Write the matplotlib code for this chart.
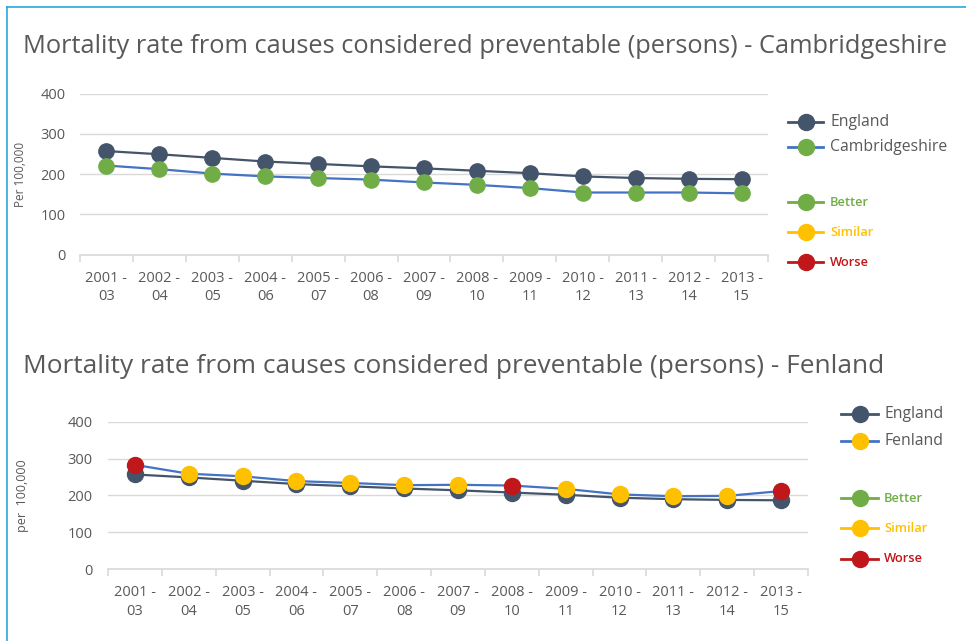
import numpy as np
import matplotlib
matplotlib.use('Agg')
import matplotlib.pyplot as plt

# values per 100,000, three-year pooled periods
periods = ['2001 -\n03', '2002 -\n04', '2003 -\n05', '2004 -\n06', '2005 -\n07',
           '2006 -\n08', '2007 -\n09', '2008 -\n10', '2009 -\n11', '2010 -\n12',
           '2011 -\n13', '2012 -\n14', '2013 -\n15']
england = [257, 249, 240, 231, 225, 219, 214, 208, 202, 194, 190, 188, 187]
cambs = [221, 212, 201, 194, 190, 186, 179, 173, 165, 154, 154, 154, 152]
cambs_rating = ['Better'] * 13
fenland = [283, 259, 252, 239, 234, 228, 229, 227, 218, 203, 198, 199, 212]
fenland_rating = ['Worse', 'Similar', 'Similar', 'Similar', 'Similar', 'Similar',
                  'Similar', 'Worse', 'Similar', 'Similar', 'Similar', 'Similar', 'Worse']
yticks = [0, 100, 200, 300, 400]

ENG = '#44546A'
AREA = '#4472C4'
rating_colours = {'Better': '#70AD47', 'Similar': '#FFC000', 'Worse': '#C0171B'}
area_rating = {'Cambridgeshire': 'Better', 'Fenland': 'Similar'}
TXT = '#595959'
GRID = '#D9D9D9'

plt.rcParams['font.family'] = ['Open Sans', 'DejaVu Sans']

W, H = 966, 641
fig = plt.figure(figsize=(W / 100, H / 100), dpi=100)


def px_axes(left, top, right, bottom):
    return fig.add_axes([left / W, 1 - bottom / H, (right - left) / W, (bottom - top) / H])


def draw_chart(ax, area, ratings, ylabel, tick_pad, ytick_pad, msize):
    x = np.arange(len(periods))
    ax.plot(x, england, color=ENG, lw=1.6, marker='o', ms=msize,
            mfc=ENG, mec=ENG, zorder=3)
    ax.plot(x, area, color=AREA, lw=1.6, zorder=4)
    for xi, v, r in zip(x, area, ratings):
        ax.plot(xi, v, marker='o', ms=msize, color=rating_colours[r],
                mec=rating_colours[r], zorder=5)
    ax.set_xlim(-0.5, len(periods) - 0.5)
    ax.set_ylim(0, 400)
    ax.set_yticks(yticks)
    ax.yaxis.grid(True, color=GRID, lw=1)
    ax.set_axisbelow(True)
    for s in ['top', 'right', 'left']:
        ax.spines[s].set_visible(False)
    ax.spines['bottom'].set_color(GRID)
    ax.spines['bottom'].set_linewidth(1.2)
    ax.set_xticks(x)
    ax.set_xticklabels(periods, linespacing=1.3)
    ax.set_xticks(np.arange(-0.5, len(periods)), minor=True)
    ax.tick_params(axis='x', which='major', length=0, pad=tick_pad,
                   labelsize=10.5, labelcolor=TXT)
    ax.tick_params(axis='x', which='minor', length=5, color=GRID, width=1.2)
    ax.tick_params(axis='y', length=0, pad=ytick_pad, labelsize=10.5, labelcolor=TXT)
    ax.set_ylabel(ylabel, color=TXT)
    return ax


# Cambridgeshire
ax1 = px_axes(80, 93.5, 768, 254.5)
draw_chart(ax1, cambs, cambs_rating, 'Per 100,000', 12, 10.5, 11)
ax1.yaxis.label.set_size(8.5)
ax1.yaxis.set_label_coords((27 - 80) / 688, 0.5)

# Fenland
ax2 = px_axes(108, 421.7, 808, 569.3)
draw_chart(ax2, fenland, fenland_rating, 'per  100,000', 11.5, 11, 11.5)
ax2.yaxis.label.set_size(9)
ax2.yaxis.set_label_coords((29 - 108) / 700, 0.5)

# overlay in pixel coordinates for titles, legends and frame
ov = fig.add_axes([0, 0, 1, 1], zorder=10)
ov.set_xlim(0, W)
ov.set_ylim(H, 0)
ov.axis('off')
ov.patch.set_alpha(0)

ov.plot([7, W], [7, 7], color='#2AA5DE', lw=1.2)
ov.plot([7, 7], [7, H], color='#2AA5DE', lw=1.2)

ov.text(23, 53, 'Mortality rate from causes considered preventable (persons) - Cambridgeshire',
        fontsize=18.3, color=TXT, va='baseline', ha='left')
ov.text(23, 372.7, 'Mortality rate from causes considered preventable (persons) - Fenland',
        fontsize=18.9, color=TXT, va='baseline', ha='left')


def legend(x0, x1, xt, rows, area_name, ms):
    entries = [('England', ENG, ENG, TXT, 11.3, 'normal'),
               (area_name, AREA, rating_colours[area_rating[area_name]], TXT, 11.3, 'normal')]
    for r in ['Better', 'Similar', 'Worse']:
        c = rating_colours[r]
        entries.append((r, c, c, c, 9.3, 'semibold'))
    for (label, lc, mc, tc, fs, fw), y in zip(entries, rows):
        ov.plot([x0, x1], [y, y], color=lc, lw=2)
        ov.plot((x0 + x1) / 2, y, marker='o', ms=ms, color=mc)
        ov.text(xt, y, label, color=tc, fontsize=fs, fontweight=fw, va='center', ha='left')


legend(788, 823, 830, [121.7, 146.7, 202, 232, 262], 'Cambridgeshire', 11.5)
legend(841, 878, 884, [414, 440.7, 498, 528, 559], 'Fenland', 11.5)

fig.savefig('out.png', dpi=100)
